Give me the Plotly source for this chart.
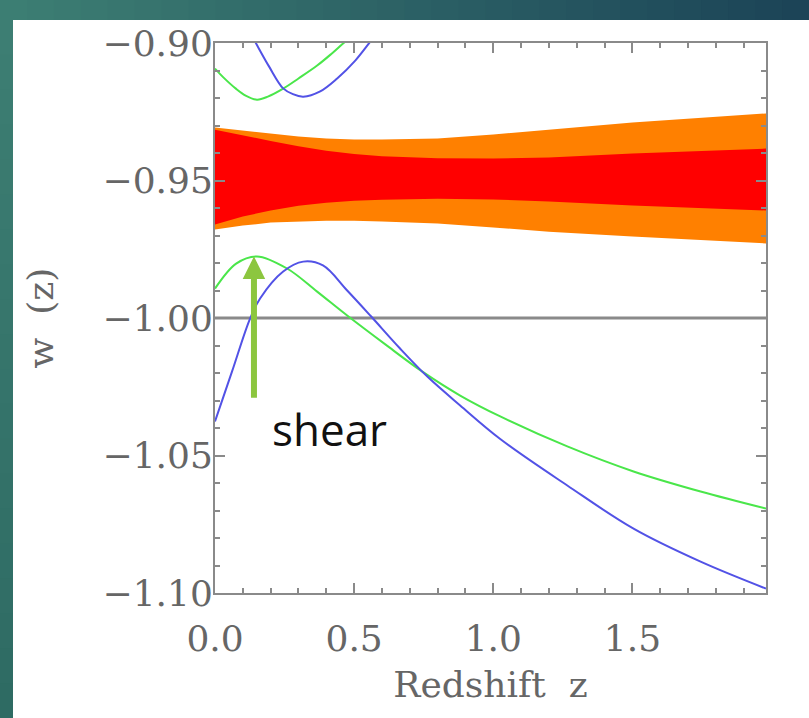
import plotly.graph_objects as go

# ---------------- data ----------------
z_band = [0.0, 0.1, 0.2, 0.3, 0.4, 0.5, 0.6, 0.8, 1.0, 1.2, 1.5, 1.98]
orange_top = [-0.9307, -0.9318, -0.9329, -0.9340, -0.9347, -0.9351, -0.9351, -0.9347, -0.9333, -0.9315, -0.9289, -0.9256]
orange_bot = [-0.9678, -0.9664, -0.9653, -0.9649, -0.9646, -0.9646, -0.9649, -0.9656, -0.9671, -0.9686, -0.9704, -0.9729]
red_top = [-0.9315, -0.9336, -0.9356, -0.9375, -0.9392, -0.9404, -0.9412, -0.9419, -0.9420, -0.9416, -0.9402, -0.9384]
red_bot = [-0.9660, -0.9631, -0.9609, -0.9592, -0.9581, -0.9574, -0.9570, -0.9566, -0.9569, -0.9576, -0.9591, -0.9609]

z_green_up = [0.0, 0.03, 0.075, 0.11, 0.151, 0.19, 0.245, 0.3, 0.367, 0.42, 0.468, 0.5]
w_green_up = [-0.9093, -0.9125, -0.9166, -0.9191, -0.9206, -0.9195, -0.9166, -0.9129, -0.9082, -0.9038, -0.8995, -0.8970]

z_blue_up = [0.13, 0.144, 0.194, 0.245, 0.28, 0.317, 0.378, 0.439, 0.504, 0.558, 0.58]
w_blue_up = [-0.8970, -0.8995, -0.9085, -0.9165, -0.9186, -0.9195, -0.9176, -0.9129, -0.9064, -0.8995, -0.8967]

z_green_lo = [0.0, 0.076, 0.151, 0.259, 0.367, 0.475, 0.612, 0.748, 0.881, 1.025, 1.266, 1.504, 1.745, 1.98]
w_green_lo = [-0.9893, -0.9802, -0.9776, -0.9820, -0.9904, -0.9991, -1.0096, -1.0197, -1.0282, -1.0358, -1.0467, -1.0558, -1.0631, -1.0693]

z_blue_lo = [0.0, 0.061, 0.126, 0.162, 0.245, 0.317, 0.388, 0.475, 0.558, 0.665, 0.763, 0.881, 1.025, 1.266, 1.504, 1.745, 1.98]
w_blue_lo = [-1.0376, -1.0195, -1.0002, -0.9929, -0.9831, -0.9795, -0.9809, -0.9900, -0.9991, -1.0111, -1.0213, -1.0318, -1.0440, -1.0609, -1.0766, -1.0886, -1.0984]

ref_w = -1.00
x_range = [0.0, 1.98]
y_range = [-1.10, -0.90]
x_ticks = [0.0, 0.5, 1.0, 1.5]
y_ticks = [-1.10, -1.05, -1.00, -0.95, -0.90]

arrow_z = 0.14
arrow_tip = -0.9776
arrow_tail = -1.0295
label_text = "shear"

# ---------------- styling ----------------
W, H = 809, 718
L, R, T, B = 215, 766, 43, 593
tick_font = dict(family="DejaVu Serif", size=36, color="#666666")
blue = "#5252e6"
green = "#4ae64a"

fig = go.Figure()

# bands
fig.add_trace(go.Scatter(x=z_band + z_band[::-1], y=orange_top + orange_bot[::-1],
                         fill="toself", fillcolor="#ff8000", mode="lines",
                         line=dict(width=0, color="#ff8000"),
                         hoverinfo="skip", showlegend=False))
fig.add_trace(go.Scatter(x=z_band + z_band[::-1], y=red_top + red_bot[::-1],
                         fill="toself", fillcolor="#ff0000", mode="lines",
                         line=dict(width=0, color="#ff0000"),
                         hoverinfo="skip", showlegend=False))
# reference line
fig.add_trace(go.Scatter(x=x_range, y=[ref_w, ref_w], mode="lines",
                         line=dict(color="#8a8a8a", width=3), showlegend=False))
# curves
for zz, ww, col in [(z_green_up, w_green_up, green), (z_blue_up, w_blue_up, blue),
                    (z_green_lo, w_green_lo, green), (z_blue_lo, w_blue_lo, blue)]:
    fig.add_trace(go.Scatter(x=zz, y=ww, mode="lines", line=dict(color=col, width=2),
                             line_shape="spline", showlegend=False))

# arrow + label
fig.add_annotation(x=arrow_z, y=arrow_tip, ax=arrow_z, ay=arrow_tail, axref="x", ayref="y",
                   xref="x", yref="y", text="", showarrow=True, arrowhead=2,
                   arrowsize=0.75, arrowwidth=6, arrowcolor="#8cc63f")
fig.add_annotation(x=0.41, y=-1.0405, xref="x", yref="y", text=label_text, showarrow=False,
                   font=dict(family="Open Sans", size=44, color="#111111"))

# teal frame (decorative background)
def px(xp):
    return (xp - L) / (R - L)

def py(yp):
    return (B - yp) / (B - T)

def mix(c1, c2, t):
    return "rgb(%d,%d,%d)" % tuple(round(a + (b - a) * t) for a, b in zip(c1, c2))

c_left, c_right, c_bot = (61, 127, 115), (27, 67, 87), (46, 106, 99)
n = 30
for i in range(n):
    x0 = W * i / n
    x1 = W * (i + 1) / n + 1
    fig.add_shape(type="rect", xref="paper", yref="paper", x0=px(x0), x1=px(x1),
                  y0=py(20), y1=py(0), fillcolor=mix(c_left, c_right, (i + 0.5) / n),
                  line=dict(width=0), layer="below")
m = 20
for j in range(m):
    y0 = 20 + (H - 20) * j / m
    y1 = 20 + (H - 20) * (j + 1) / m + 1
    fig.add_shape(type="rect", xref="paper", yref="paper", x0=px(0), x1=px(13),
                  y0=py(y1), y1=py(y0), fillcolor=mix(c_left, c_bot, (j + 0.5) / m),
                  line=dict(width=0), layer="below")

axis_common = dict(showgrid=False, zeroline=False, showline=True, linecolor="#8a8a8a",
                   linewidth=2, mirror="allticks", ticks="inside", tickcolor="#8a8a8a",
                   tickwidth=1.5, ticklen=10, tickfont=tick_font)
fig.update_xaxes(range=x_range, tickvals=x_ticks, tickformat=".1f",
                 minor=dict(ticks="inside", dtick=0.1, ticklen=5, tickcolor="#8a8a8a", tickwidth=1.5),
                 title=dict(text="Redshift  z", font=tick_font, standoff=14),
                 ticklabelstandoff=13, **axis_common)
fig.update_yaxes(range=y_range, tickvals=y_ticks, tickformat=".2f",
                 minor=dict(ticks="inside", dtick=0.01, ticklen=5, tickcolor="#8a8a8a", tickwidth=1.5),
                 title=dict(text="w  (z)", font=tick_font, standoff=38),
                 ticklabelstandoff=-7, **axis_common)

fig.update_layout(width=W, height=H, margin=dict(l=L, r=W - R, t=T, b=H - B),
                  paper_bgcolor="white", plot_bgcolor="white", showlegend=False)

fig.write_html("out.html")
